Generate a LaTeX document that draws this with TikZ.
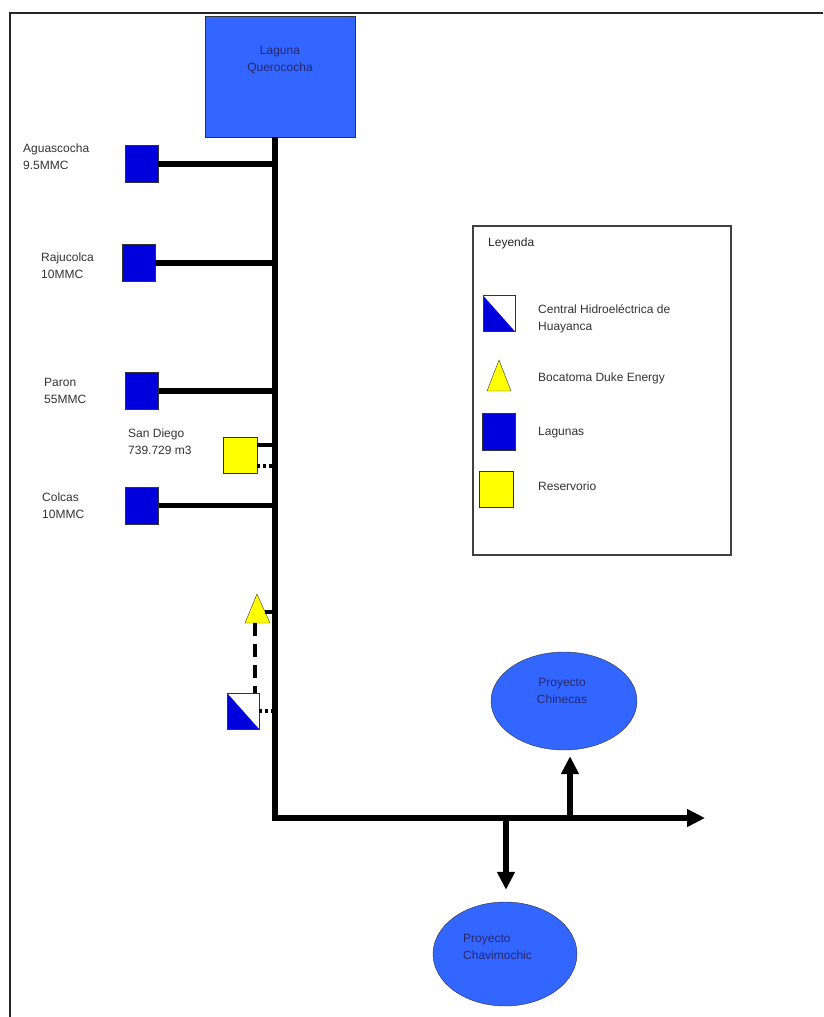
\documentclass[tikz,border=0pt]{standalone}
\usepackage{fontspec}
\setmainfont{Liberation Sans}
\usetikzlibrary{shapes.geometric,arrows.meta}
\definecolor{lagblue}{RGB}{0,0,220}
\definecolor{querblue}{RGB}{51,102,255}
\definecolor{resyellow}{RGB}{255,255,0}
\definecolor{txtgray}{RGB}{51,51,51}
\definecolor{txtnavy}{RGB}{40,40,110}

\begin{document}
\begin{tikzpicture}[x=1pt,y=-1pt,
    lbl/.style={inner sep=0pt, align=left, anchor=north west, text=txtgray, font=\fontsize{12}{17}\selectfont},
    laguna/.style={draw=black!80, fill=lagblue, minimum width=33pt, minimum height=37pt, inner sep=0pt},
    reserv/.style={draw=black!80, fill=resyellow, minimum width=34pt, minimum height=36pt, inner sep=0pt},
    central/.style={draw=black!80, fill=white, minimum width=32pt, minimum height=36pt, inner sep=0pt,
        path picture={\fill[lagblue] (path picture bounding box.north west) -- (path picture bounding box.south west) -- (path picture bounding box.south east) -- cycle;}},
    proyecto/.style={ellipse, draw=black!80, fill=querblue, inner sep=0pt},
    branch/.style={line width=5.5pt},
    link/.style={line width=3.5pt},
    flow/.style={line width=6pt, -{Triangle[length=18pt,width=17pt]}}
]
\useasboundingbox (0,0) rectangle (823,1017);
\draw[line width=2pt, black!85] (823,13) -- (10,13) -- (10,1017);

% laguna principal y canal
\node[draw=black!80, fill=querblue, minimum width=150pt, minimum height=121pt] (querococha) at (280,76.5) {};
\node[lbl, align=center, anchor=north, text=txtnavy] (querotxt) at (280,46) {Laguna\\Querococha};
\coordinate (corner) at (275,818);
\coordinate (tip) at (705,818);
\draw[flow] (querococha.south -| corner) -- (corner) -- (tip);

% lagunas
\node[laguna] (aguascocha) at (141.5,164) {};
\node[laguna] (rajucolca) at (138.5,263) {};
\node[laguna] (paron) at (142,391) {};
\node[laguna] (colcas) at (142,505.5) {};
\foreach \n in {aguascocha,rajucolca,paron,colcas}
    \draw[branch] (\n.east) -- (\n.east -| corner);
\node[lbl] (aguastxt) at (23,144) {Aguascocha\\9.5MMC};
\node[lbl] (rajutxt) at (41,253) {Rajucolca\\10MMC};
\node[lbl] (parontxt) at (44,378) {Paron\\55MMC};
\node[lbl] (colcastxt) at (42,493) {Colcas\\10MMC};

% reservorio
\node[reserv] (sandiego) at (240,455) {};
\node[lbl] (sandtxt) at (128,429) {San Diego\\739.729 m3};
\draw[link] (sandiego.30) -- (sandiego.30 -| corner);
\draw[link, dash pattern=on 3pt off 3pt] (sandiego.-33) -- (sandiego.-33 -| corner);

% bocatoma y central
\coordinate (bocatop) at (257,594);
\coordinate (bocaleft) at (245,623);
\coordinate (bocaright) at (270,623);
\draw[draw=black!80, fill=resyellow] (bocatop) -- (bocaright) -- (bocaleft) -- cycle;
\coordinate (bocaside) at (265,612);
\draw[link] (bocaside) -- (bocaside -| corner);
\coordinate (bocabase) at (255,623);
\node[central] (huayanca) at (243,711) {};
\draw[line width=4pt, dash pattern=on 13pt off 8pt] (bocabase) -- (huayanca.north -| bocabase);
\draw[link, dash pattern=on 3pt off 3pt] (huayanca.east) -- (huayanca.east -| corner);

% proyectos
\node[proyecto, minimum width=146pt, minimum height=98pt] (chinecas) at (564,701) {};
\node[lbl, align=center, anchor=north, text=txtnavy] (chinetxt) at (562,678) {Proyecto\\Chinecas};
\node[proyecto, minimum width=144pt, minimum height=104pt] (chavimochic) at (505,954) {};
\node[lbl, text=txtnavy] (chavtxt) at (463,934) {Proyecto\\Chavimochic};
\coordinate (chineout) at (570,818);
\coordinate (chinein) at ([yshift=-6pt]chinecas.south);
\draw[flow] (chineout) -- (chineout |- chinein);
\coordinate (chavout) at (506,818);
\coordinate (chavin) at ([yshift=12pt]chavimochic.north);
\draw[flow] (chavout) -- (chavout |- chavin);

% leyenda
\node[draw=black!75, line width=1.5pt, minimum width=258pt, minimum height=329pt] (leyenda) at (602,390.5) {};
\node[lbl, text=black!85] (leyendatxt) at (488,238) {Leyenda};
\node[central] (keycentral) at (499,313.5) {};
\node[lbl] (keycentraltxt) at (538,304) {Central Hidroeléctrica de\\Huayanca};
\draw[draw=black!80, fill=resyellow] (499,360) -- (511,391) -- (487,391) -- cycle;
\node[lbl] (keybocatxt) at (538,373) {Bocatoma Duke Energy};
\node[laguna] (keylaguna) at (499,431.5) {};
\node[lbl] (keylagunatxt) at (538,427) {Lagunas};
\node[reserv] (keyreserv) at (496.5,489) {};
\node[lbl] (keyreservtxt) at (538,482) {Reservorio};
\end{tikzpicture}
\end{document}
